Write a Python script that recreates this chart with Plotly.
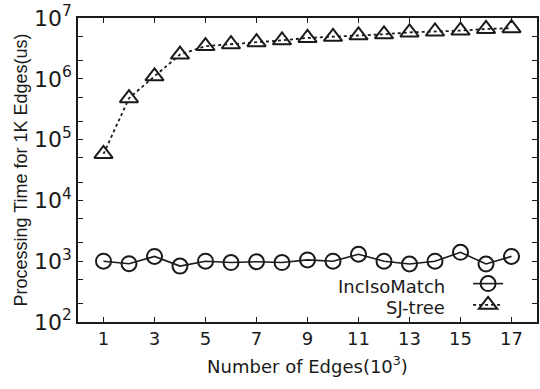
import plotly.graph_objects as go

x_edges = list(range(1, 18))
inc_iso = [1000, 910, 1200, 830, 1000, 950, 980, 950, 1050, 1000, 1300, 1000, 900, 1000, 1400, 900, 1200]
sj_tree = [5.8e4, 4.8e5, 1.1e6, 2.5e6, 3.45e6, 3.7e6, 4.0e6, 4.3e6, 4.7e6, 4.9e6, 5.2e6, 5.4e6, 5.8e6, 6.0e6, 6.2e6, 6.6e6, 6.8e6]
x_ticks = [1, 3, 5, 7, 9, 11, 13, 15, 17]
y_ticks = [1e2, 1e3, 1e4, 1e5, 1e6, 1e7]
y_ticktext = ["10<sup>2</sup>", "10<sup>3</sup>", "10<sup>4</sup>", "10<sup>5</sup>", "10<sup>6</sup>", "10<sup>7</sup>"]
series_names = ["IncIsoMatch", "SJ-tree"]

WIDE = "DejaVu Sans, sans-serif"
NARROW = "Liberation Sans, Arial, sans-serif"
ink = "#1a1a1a"

fig = go.Figure()
fig.add_trace(go.Scatter(
    x=x_edges, y=inc_iso, mode="lines+markers", name=" ",
    line=dict(color=ink, width=1.6),
    marker=dict(symbol="circle-open", size=15, color=ink, line=dict(width=2, color=ink)),
))
fig.add_trace(go.Scatter(
    x=x_edges, y=sj_tree, mode="lines+markers", name=" ",
    line=dict(color=ink, width=1.8, dash="dot"),
    marker=dict(symbol="triangle-up-open", size=16, color=ink, line=dict(width=2, color=ink)),
))

minor_vals = []
for d in range(2, 7):
    minor_vals += [2 * 10 ** d, 5 * 10 ** d]

fig.update_layout(
    width=540, height=389,
    margin=dict(l=78, r=1, t=18, b=67),
    paper_bgcolor="white", plot_bgcolor="white",
    font=dict(family=WIDE, size=18, color=ink),
    showlegend=True,
    legend=dict(
        x=(520 - 78) / 461, y=(322 - 268) / 304, xanchor="right", yanchor="top",
        bgcolor="rgba(0,0,0,0)", font=dict(size=14), tracegroupgap=0,
        itemwidth=30,
    ),
    xaxis=dict(
        range=[0, 18], tickvals=x_ticks, ticks="inside", ticklen=5,
        tickcolor=ink, showline=True, linecolor=ink, linewidth=1.5, mirror="allticks",
        showgrid=False, zeroline=False,
        title=dict(text="Number of Edges(10<sup>3</sup>)", font=dict(size=18, family=WIDE), standoff=12),
        tickfont=dict(size=18, family=WIDE),
    ),
    yaxis=dict(
        type="log", range=[2, 7], tickvals=y_ticks, ticktext=y_ticktext,
        ticks="inside", ticklen=5, tickcolor=ink,
        showline=True, linecolor=ink, linewidth=1.5, mirror="allticks",
        showgrid=False, zeroline=False,
        minor=dict(tickvals=minor_vals, ticks="inside", ticklen=5, tickcolor=ink, showgrid=False),
        title=dict(text="Processing Time for 1K Edges(us)", font=dict(size=18, family=NARROW), standoff=2),
        tickfont=dict(size=22, family=WIDE),
    ),
)

for i, name in enumerate(series_names):
    fig.add_annotation(
        xref="paper", yref="paper",
        x=(449 - 78) / 461, y=(322 - 286 - 21 * i) / 304,
        text=name, showarrow=False, xanchor="right", yanchor="middle",
        font=dict(size=18, family=WIDE, color=ink),
    )

fig.write_html("out.html")
